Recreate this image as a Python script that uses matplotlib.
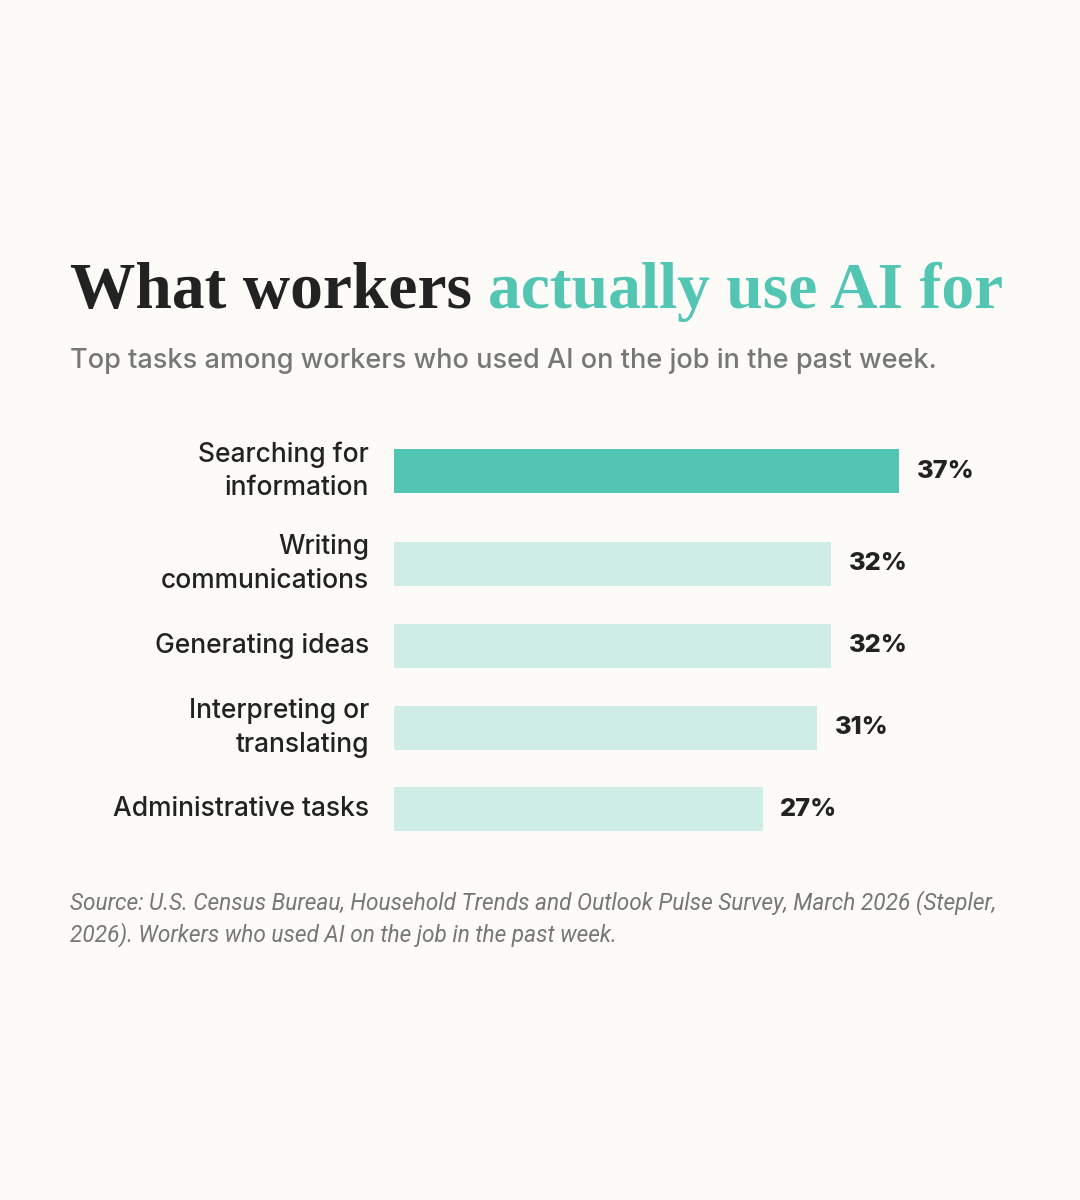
import matplotlib
matplotlib.use('Agg')
import matplotlib.pyplot as plt

W, H = 1080, 1200
BG = '#FCFBF8'
TEAL = '#52C5B3'
LIGHT = '#CDEDE6'
DARK = '#222222'
GREY = '#777777'

tasks = ['Searching for\ninformation', 'Writing\ncommunications', 'Generating ideas',
         'Interpreting or\ntranslating', 'Administrative tasks']
shares = [37, 32, 32, 31, 27]
value_labels = ['37%', '32%', '32%', '31%', '27%']
highlight = [True, False, False, False, False]

fig = plt.figure(figsize=(W / 100, H / 100), dpi=100, facecolor=BG)


def fy(py):
    return 1 - py / H


# ---- title (two colours), sized to span x=70..1003 ----
renderer = fig.canvas.get_renderer()
tkw = dict(fontsize=52, fontweight='bold', family='Liberation Serif', va='baseline', ha='left')
t1 = fig.text(70 / W, fy(308), 'What workers ', color=DARK, **tkw)
t2 = fig.text(0, fy(308), 'actually use AI for', color=TEAL, **tkw)
w1 = t1.get_window_extent(renderer).width
w2 = t2.get_window_extent(renderer).width
size = 52 * 933 / (w1 + w2)
t1.set_fontsize(size)
t2.set_fontsize(size)
bb = t1.get_window_extent(renderer)
t2.set_x(bb.x1 / W)

fig.text(70 / W, fy(361), 'Top tasks among workers who used AI on the job in the past week.',
         fontsize=19.5, family='Inter', fontweight='medium', color=GREY, va='center', ha='left')

# ---- bars ----
y_pos = [471, 564, 646, 728, 809]
ax = fig.add_axes([394 / W, fy(860), 546 / W, 430 / H])
ax.set_facecolor('none')
ax.set_xlim(0, 40)
ax.set_ylim(860, 430)
ax.axis('off')
colors = [TEAL if h else LIGHT for h in highlight]
ax.barh(y_pos, shares, height=44, color=colors, edgecolor='none')
for y, v, lab, task in zip(y_pos, shares, value_labels, tasks):
    ax.text(v + 1.3, y, lab, fontsize=18.2, fontweight='heavy', family='Inter',
            color=DARK, va='center', ha='left')
    ax.annotate(task, xy=(0, y), xytext=(-25, 0), textcoords='offset pixels',
                fontsize=19, family='Inter', fontweight='medium', color=DARK,
                va='center', ha='right', linespacing=1.35)

# ---- source ----
skw = dict(fontsize=16.3, family='Roboto', style='italic', color=GREY, va='center', ha='left')
fig.text(70 / W, fy(903), 'Source: U.S. Census Bureau, Household Trends and Outlook Pulse Survey, March 2026 (Stepler,', **skw)
fig.text(70 / W, fy(935), '2026). Workers who used AI on the job in the past week.', **skw)

fig.savefig('out.png', dpi=100, facecolor=BG)
